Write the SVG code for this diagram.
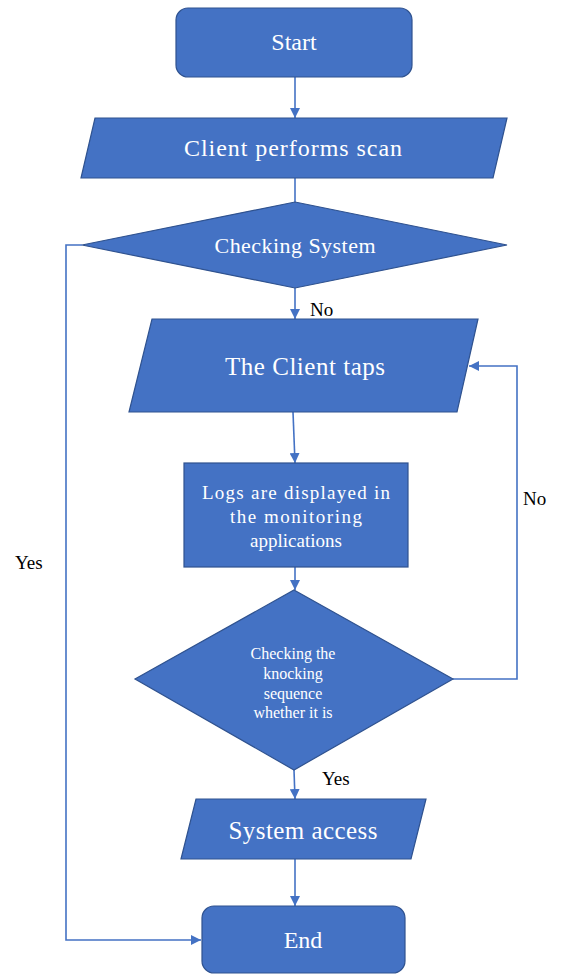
<svg xmlns="http://www.w3.org/2000/svg" width="561" height="975" viewBox="0 0 561 975">
<style>
.shape{fill:#4472C4;stroke:#2F528F;stroke-width:1.2}
.t{fill:#fff;font-family:"Liberation Serif","Times New Roman","DejaVu Serif",serif;text-anchor:middle;dominant-baseline:central}
.lbl{fill:#000;font-family:"Liberation Serif","Times New Roman","DejaVu Serif",serif;font-size:19px;dominant-baseline:central}
.c{fill:none;stroke:#4472C4;stroke-width:1.6}
</style>
<defs>
<marker id="ah" viewBox="0 0 10 10" refX="10" refY="5" markerWidth="10" markerHeight="10" markerUnits="userSpaceOnUse" orient="auto">
<path d="M0,0 L10,5 L0,10 Z" fill="#4472C4"/>
</marker>
</defs>
<rect width="561" height="975" fill="#fff"/>
<g id="connectors">
<line class="c" x1="295" y1="77" x2="295" y2="118" marker-end="url(#ah)"/>
<line class="c" x1="295" y1="178" x2="295" y2="202"/>
<line class="c" x1="295" y1="288" x2="295" y2="319" marker-end="url(#ah)"/>
<polyline class="c" points="82,245 66,245 66,940 201,940" marker-end="url(#ah)"/>
<line class="c" x1="293" y1="412" x2="295" y2="463" marker-end="url(#ah)"/>
<line class="c" x1="295" y1="567" x2="295" y2="590" marker-end="url(#ah)"/>
<polyline class="c" points="453,679 517,679 517,366 469,366" marker-end="url(#ah)"/>
<line class="c" x1="294" y1="770" x2="295" y2="799" marker-end="url(#ah)"/>
<line class="c" x1="295" y1="859" x2="295" y2="906" marker-end="url(#ah)"/>
<text class="lbl" x="310" y="309">No</text>
<text class="lbl" x="523" y="498">No</text>
<text class="lbl" x="15" y="562">Yes</text>
<text class="lbl" x="322" y="778">Yes</text>
</g>
<g id="start">
<rect class="shape" x="176" y="8" width="236" height="69" rx="12"/>
<text class="t" x="294" y="42" font-size="24">Start</text>
</g>
<g id="scan">
<polygon class="shape" points="95,118 507,118 493,178 81,178"/>
<text class="t" x="293" y="148" font-size="24" textLength="218" lengthAdjust="spacing">Client performs scan</text>
</g>
<g id="checking-system">
<polygon class="shape" points="295,202 507,245 295,288 82,245"/>
<text class="t" x="295" y="245" font-size="22" textLength="161" lengthAdjust="spacing">Checking System</text>
</g>
<g id="client-taps">
<polygon class="shape" points="152,319 478,319 457,412 129,412"/>
<text class="t" x="305" y="366" font-size="25" textLength="160" lengthAdjust="spacing">The Client taps</text>
</g>
<g id="logs">
<rect class="shape" x="184" y="463" width="224" height="104"/>
<text class="t" x="296" y="492" font-size="19" textLength="188" lengthAdjust="spacing">Logs are displayed in</text>
<text class="t" x="296" y="516" font-size="19" textLength="132" lengthAdjust="spacing">the monitoring</text>
<text class="t" x="296" y="540" font-size="19">applications</text>
</g>
<g id="knock-check">
<polygon class="shape" points="294,590 453,679 294,770 135,679"/>
<text class="t" x="293" y="653" font-size="16">Checking the</text>
<text class="t" x="293" y="673" font-size="16">knocking</text>
<text class="t" x="293" y="693" font-size="16">sequence</text>
<text class="t" x="293" y="712" font-size="16">whether it is</text>
</g>
<g id="access">
<polygon class="shape" points="196,799 426,799 411,859 181,859"/>
<text class="t" x="303" y="830" font-size="25" textLength="149" lengthAdjust="spacing">System access</text>
</g>
<g id="end">
<rect class="shape" x="202" y="906" width="203" height="67" rx="12"/>
<text class="t" x="303" y="940" font-size="24">End</text>
</g>
</svg>
